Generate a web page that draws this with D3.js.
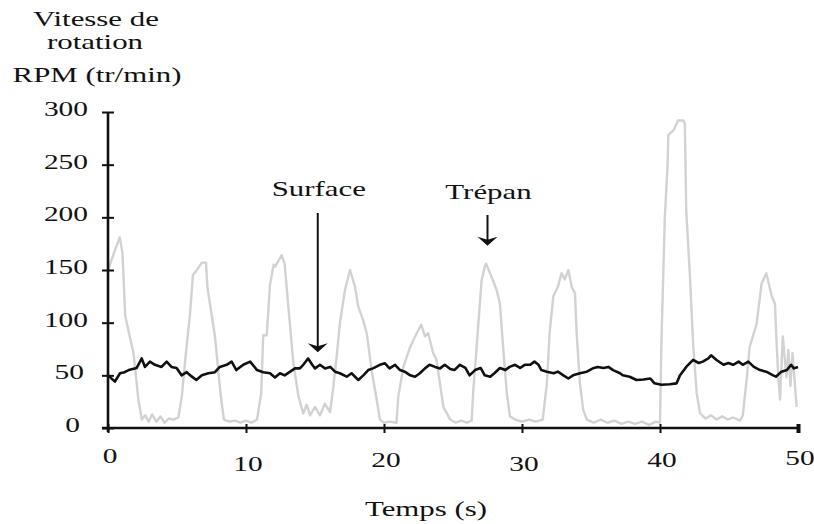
<!DOCTYPE html>
<html>
<head>
<meta charset="utf-8">
<script src="https://cdn.jsdelivr.net/npm/d3@7"></script>
<style>
  html, body { margin: 0; padding: 0; background: #fff; }
  svg text { font-family: "Liberation Serif", "Times New Roman", serif; fill: #111; }
</style>
</head>
<body>
<div id="chart"></div>
<script>
// Time axis (s) and rotation speed (tr/min)
var xTicks = [0, 10, 20, 30, 40, 50];
var yTicks = [0, 50, 100, 150, 200, 250, 300];

// Trépan (bit) speed, grey trace
var trepanT = [0, 0.4, 0.85, 1.05, 1.25, 1.85, 2.2, 2.45, 2.7, 2.95, 3.2, 3.5, 3.8, 4.1, 4.4, 4.75, 5.1,
  5.35, 5.6, 5.95, 6.15, 6.55, 6.8, 7.1, 7.2, 7.75, 8.15, 8.4, 8.8, 9.2, 9.6, 10.0, 10.4, 10.8,
  11.1, 11.25, 11.5, 11.74, 12.0, 12.1, 12.58, 12.8, 13.07, 13.43, 13.8, 14.15, 14.4, 14.64, 15.0, 15.36, 15.72, 16.09,
  16.33, 16.57, 16.8, 17.17, 17.54, 17.9, 18.14, 18.5, 18.75, 19.1, 19.47, 19.7, 20.0, 20.4, 20.9,
  21.04, 21.4, 21.9, 22.37, 22.7, 22.97, 23.2, 23.57, 23.8, 24.06, 24.3, 24.8, 25.2, 25.6, 26.0, 26.35,
  26.47, 26.7, 26.96, 27.07, 27.3, 27.4, 27.68, 27.9, 28.16, 28.4, 28.65, 28.9, 29.13, 29.5, 30.0, 30.5, 31.0, 31.5,
  31.8, 32.0, 32.27, 32.6, 32.87, 33.1, 33.36, 33.6, 33.84, 33.96, 34.2, 34.44, 34.7,
  35.2, 35.7, 36.2, 36.7, 37.2, 37.7, 38.2, 38.7, 39.2, 39.7, 40.0,
  40.1, 40.35, 40.55, 40.6, 41.0, 41.3, 41.7, 41.8, 41.9, 42.17, 42.4, 42.66, 42.9,
  43.3, 43.7, 44.1, 44.5, 44.9, 45.3, 45.8, 46.0,
  46.3, 46.5, 47.0, 47.36, 47.7, 48.1, 48.33, 48.45, 48.57, 48.7, 48.9, 49.16, 49.3, 49.45, 49.6, 49.9];
var trepanRPM = [150, 165, 181, 166, 106, 71, 27, 8, 12, 6, 13, 6, 11, 5, 9, 8, 10,
  30, 65, 109, 145, 152, 157, 157, 134, 87, 33, 8, 6, 7, 5, 7, 5, 8,
  33, 88, 88, 136, 155, 153, 164, 156, 115, 62, 30, 14, 22, 12, 20, 12, 23, 15,
  39, 68, 99, 131, 150, 134, 115, 102, 90, 55, 27, 8, 5, 6, 5,
  30, 58, 77, 90, 98, 87, 90, 71, 65, 42, 20, 8, 5, 7, 5, 7,
  36, 74, 121, 140, 153, 156, 147, 140, 131, 118, 74, 33, 11, 8, 6, 8, 6, 8,
  42, 90, 125, 134, 147, 141, 150, 134, 128, 90, 42, 17, 8,
  5, 8, 5, 7, 4, 6, 4, 6, 3, 6, 5,
  80, 200, 250, 278, 283, 292, 292, 289, 207, 144, 80, 33, 14,
  9, 12, 8, 11, 8, 10, 7, 12,
  49, 77, 99, 137, 147, 125, 118, 80, 49, 27, 87, 48, 74, 40, 71, 20];

// Surface speed, black trace
var surfaceT = [0, 0.5, 0.87, 1.2, 1.5, 2.08, 2.44, 2.68, 3.04, 3.4, 3.88, 4.25, 4.6, 4.97, 5.33, 5.7, 6.06, 6.4, 6.8,
  7.27, 7.75, 8.1, 8.6, 8.96, 9.3, 9.8, 10.3, 10.8, 11.25, 11.74, 12.1, 12.46, 12.8, 13.2, 13.55, 13.9, 14.15,
  14.5, 14.8, 15.0, 15.36, 15.72, 16.1, 16.45, 16.8, 17.3, 17.65, 18.14, 18.5, 18.86, 19.2, 19.7, 20.07, 20.4,
  20.8, 21.16, 21.5, 21.9, 22.25, 22.6, 22.97, 23.3, 23.7, 24.06, 24.4, 24.8, 25.1, 25.5, 25.9, 26.2, 26.6,
  27.0, 27.3, 27.7, 28.0, 28.4, 28.8, 29.1, 29.5, 29.86, 30.2, 30.6, 30.9, 31.2, 31.4, 31.8, 32.3, 32.6, 33.0,
  33.36, 33.7, 34.2, 34.7, 35.2, 35.5, 35.9, 36.26, 36.6, 37.1, 37.3, 37.8, 38.3, 38.8, 39.3, 39.6, 40.1, 40.7,
  41.2, 41.45, 41.9, 42.4, 42.8, 43.1, 43.5, 43.7, 44.1, 44.6, 44.95, 45.3, 45.7, 46.0, 46.4, 46.8, 47.25, 47.7,
  48.2, 48.4, 48.8, 49.2, 49.5, 49.7, 50];
var surfaceRPM = [50, 44, 52, 53, 55, 57, 66, 58, 63, 60, 58, 63, 58, 57, 50, 53, 49, 45.6, 50,
  52, 53, 58, 60, 63, 55, 60, 63, 55, 53, 52, 48, 52, 50, 53.5, 56.6, 56.6, 60,
  66, 60, 56.6, 60, 56.6, 58, 53.5, 52, 48.7, 52, 45.6, 50, 55, 56.6, 60, 61.4, 56.6,
  60, 55, 53.5, 50, 48.7, 52, 56.6, 60, 58, 56.6, 60, 56, 55, 60, 57, 50, 55,
  57, 50, 48.7, 52, 57, 55, 58, 60, 57, 60, 60, 63, 60, 55, 53.5, 52, 53.5, 50,
  47, 50, 52, 53.5, 57, 58, 57, 58, 55, 52, 50, 48.7, 45.6, 46, 47, 42.4, 41, 41.5,
  42.4, 50, 58, 64.6, 61.7, 63, 66, 69, 64.6, 60, 61.7, 60, 63, 60, 63, 58, 55, 53.5,
  50, 48.7, 53.5, 55, 60, 56.6, 58];

var width = 814, height = 524;
var sx = 1.47; // the original lettering is stretched sideways

var svg = d3.select('#chart').append('svg')
  .attr('width', width)
  .attr('height', height);

var x = d3.scaleLinear().domain([0, 50]).range([108, 798]);
var y = d3.scaleLinear().domain([0, 300]).range([428, 112]);

function label(px, py, str, size, anchor) {
  return svg.append('text')
    .attr('transform', 'translate(' + px + ',' + py + ') scale(' + sx + ',1)')
    .attr('text-anchor', anchor || 'middle')
    .style('font-size', size + 'px')
    .text(str);
}

// Traces
var trepan = trepanT.map(function (t, i) { return [t, trepanRPM[i]]; });
var surface = surfaceT.map(function (t, i) { return [t, surfaceRPM[i]]; });

var line = d3.line()
  .x(function (d) { return x(d[0]); })
  .y(function (d) { return y(d[1]); });

svg.append('path')
  .datum(trepan)
  .attr('d', line)
  .attr('fill', 'none')
  .attr('stroke', '#d2d2d2')
  .attr('stroke-width', 2.4)
  .attr('stroke-linejoin', 'round');

svg.append('path')
  .datum(surface)
  .attr('d', line)
  .attr('fill', 'none')
  .attr('stroke', '#111')
  .attr('stroke-width', 2.6)
  .attr('stroke-linejoin', 'round');

// Axes
var yAxis = svg.append('g')
  .attr('transform', 'translate(' + x(0) + ',0)')
  .call(d3.axisLeft(y).tickValues(yTicks).tickSizeOuter(0).tickFormat(''));
yAxis.select('.domain').attr('stroke', '#111').attr('stroke-width', 2.6)
  .attr('d', 'M0,' + y(300) + 'V' + (y(0) + 4));
yAxis.selectAll('.tick line').attr('x1', -6).attr('x2', 6)
  .attr('stroke', '#111').attr('stroke-width', 2);

var xAxis = svg.append('g')
  .attr('transform', 'translate(0,' + y(0) + ')')
  .call(d3.axisBottom(x).tickValues(xTicks).tickSizeOuter(0).tickFormat(''));
xAxis.select('.domain').attr('stroke', '#111').attr('stroke-width', 2.6)
  .attr('d', 'M' + (x(0) - 6) + ',0H' + x(50));
xAxis.selectAll('.tick line').attr('y1', -4).attr('y2', 5)
  .attr('stroke', '#111').attr('stroke-width', 2)
  .filter(function (d) { return d === 50; }).attr('stroke-width', 4);

// Tick labels
yTicks.forEach(function (v) {
  var s = String(v);
  label(88 - (3 - s.length) * 4, y(v) + 4, s, 20, 'end');
});
var xLabelDrop = [0, 8, 4, 8, 4, 2];
xTicks.forEach(function (v, i) {
  label(x(v) + 2, y(0) + 35 + xLabelDrop[i], String(v), 20, 'middle');
});

// Axis titles
label(96, 26, 'Vitesse de', 21);
label(95, 49, 'rotation', 21);
label(97, 82, 'RPM (tr/min)', 21);
label(426, 516, 'Temps (s)', 21);

// Annotations
var notes = [
  { text: 'Surface', t: 15.2, tip: 72, top: 213, labelY: 196 },
  { text: 'Trépan', t: 27.5, tip: 173, top: 215, labelY: 199 }
];
notes.forEach(function (n) {
  var ax = x(n.t), tipY = y(n.tip);
  label(ax + 1, n.labelY, n.text, 21);
  svg.append('line')
    .attr('x1', ax).attr('x2', ax)
    .attr('y1', n.top).attr('y2', tipY - 4)
    .attr('stroke', '#111').attr('stroke-width', 2);
  svg.append('path')
    .attr('d', 'M' + (ax - 10) + ',' + (tipY - 9) + 'L' + ax + ',' + (tipY - 6) +
      'L' + (ax + 10) + ',' + (tipY - 9) + 'L' + ax + ',' + tipY + 'Z')
    .attr('fill', '#111');
});
</script>
</body>
</html>
